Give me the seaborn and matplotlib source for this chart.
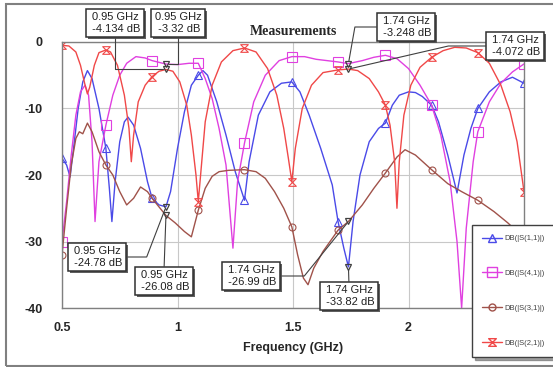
import numpy as np
import matplotlib
matplotlib.use("Agg")
import matplotlib.pyplot as plt
import matplotlib.patheffects as pe
from matplotlib.lines import Line2D
from matplotlib.patches import Rectangle
from matplotlib.path import Path
import seaborn as sns

# traced curves (frequency in GHz, magnitude in dB)
s11_freq = [0.5, 0.52, 0.535, 0.55, 0.57, 0.59, 0.61, 0.63, 0.66, 0.69, 0.705, 0.716, 0.73, 0.75, 0.77,
            0.786, 0.81, 0.84, 0.87, 0.89, 0.92, 0.95, 0.97, 1.0, 1.03, 1.06, 1.09, 1.11, 1.13, 1.17, 1.21,
            1.25, 1.29, 1.31, 1.35, 1.4, 1.45, 1.495, 1.53, 1.57, 1.62, 1.67, 1.695, 1.72, 1.74, 1.76, 1.79,
            1.83, 1.87, 1.9, 1.93, 1.96, 2.0, 2.03, 2.06, 2.1, 2.13, 2.17, 2.21, 2.24, 2.27, 2.3, 2.35, 2.4,
            2.45, 2.5]
s11_db = [-17.5, -18.5, -20.3, -16, -10, -6, -4.3, -5.5, -10, -16, -22, -27, -21, -15, -12,
          -11.3, -12.5, -16, -21, -23.5, -24.5, -24.78, -22.5, -16, -10.5, -6.5, -5, -4.3, -5, -9, -14,
          -19.5, -23.8, -18, -11, -7.5, -6.2, -6, -7.5, -11, -16, -21.5, -27, -31, -33.82, -27, -20,
          -15, -13, -12.2, -9.5, -8, -7.5, -7.6, -8.2, -9.5, -12, -17, -22.7, -17, -13, -10, -7.5, -6,
          -5.3, -6.2]

s41_freq = [0.5, 0.52, 0.54, 0.56, 0.58, 0.60, 0.615, 0.63, 0.643, 0.66, 0.69, 0.72, 0.75, 0.78, 0.82,
            0.86, 0.89, 0.95, 1.0, 1.05, 1.09, 1.12, 1.15, 1.18, 1.21, 1.24, 1.26, 1.29, 1.33, 1.38, 1.44,
            1.495, 1.55, 1.6, 1.695, 1.74, 1.8, 1.85, 1.9, 1.95, 2.0, 2.05, 2.1, 2.14, 2.18, 2.21, 2.23,
            2.25, 2.28, 2.3, 2.35, 2.4, 2.45, 2.5]
s41_db = [-30, -24, -17, -11, -7.5, -6.5, -8, -15, -27, -18, -12.5, -8, -5, -3.2, -2.2,
          -2.4, -2.8, -3.32, -3.4, -3.2, -3.2, -5.5, -8.5, -13, -18.5, -31, -21, -15.2, -9, -5, -2.8,
          -2.2, -2.2, -2.6, -3.0, -3.25, -2.8, -2.3, -2.0, -2.5, -4, -6.5, -9.5, -14, -21, -30, -40,
          -28, -18, -13.5, -9, -6.2, -4.5, -3.3]

s31_freq = [0.5, 0.52, 0.54, 0.56, 0.575, 0.59, 0.61, 0.63, 0.66, 0.69, 0.72, 0.75, 0.78, 0.81, 0.84,
            0.87, 0.89, 0.92, 0.95, 0.99, 1.03, 1.06, 1.09, 1.12, 1.15, 1.18, 1.22, 1.29, 1.34, 1.38, 1.42,
            1.46, 1.495, 1.52, 1.545, 1.565, 1.59, 1.63, 1.695, 1.74, 1.8, 1.85, 1.9, 1.95, 1.985, 2.03,
            2.1, 2.17, 2.23, 2.3, 2.37, 2.43, 2.5]
s31_db = [-32, -25, -18.5, -14.5, -13.5, -13.8, -12.2, -13.5, -16.5, -18.5, -20, -22.5, -24.5, -23.5, -21.8,
          -22.5, -23.5, -24.8, -26.08, -27.2, -28.5, -29.3, -25.3, -22, -20.2, -19.5, -19.3, -19.2, -19.5, -20.5, -22.5,
          -25, -27.8, -32, -35.5, -36.5, -34, -31.5, -28.3, -26.99, -24.5, -22, -19.7, -17.3, -16.2, -17,
          -19.2, -21.3, -22.5, -23.8, -25.5, -27.2, -29.5]

s21_freq = [0.5, 0.53, 0.56, 0.58, 0.60, 0.61, 0.62, 0.64, 0.66, 0.69, 0.71, 0.74, 0.77, 0.79, 0.80,
            0.81, 0.83, 0.86, 0.89, 0.92, 0.95, 0.98, 1.01, 1.04, 1.06, 1.08, 1.09, 1.10, 1.12, 1.15, 1.19,
            1.24, 1.29, 1.34, 1.39, 1.43, 1.46, 1.48, 1.495, 1.51, 1.54, 1.58, 1.63, 1.695, 1.74, 1.78,
            1.83, 1.87, 1.9, 1.92, 1.94, 1.95, 1.96, 1.98, 2.01, 2.05, 2.1, 2.15, 2.2, 2.25, 2.3, 2.35,
            2.4, 2.44, 2.47, 2.5]
s21_db = [-0.5, -0.6, -1.5, -3.5, -6.5, -7.8, -6.8, -3.5, -1.6, -1.2, -1.5, -3.5, -8, -13, -18,
          -14, -9, -6.5, -5.2, -4.4, -4.13, -4.4, -6, -9.5, -14, -20, -24, -20, -12, -6.5, -3,
          -1.3, -0.9, -1.5, -4, -8, -13, -17.5, -21, -16, -10, -6.5, -4.6, -4.2, -4.07, -4.3,
          -5.5, -7.5, -9.5, -12.5, -18, -25, -18, -11, -6.5, -3.8, -2.3, -1.3, -0.8, -0.9, -1.6, -3.2,
          -6.5, -10.5, -15, -22.5]

marker_freqs = [0.5, 0.69, 0.89, 1.09, 1.29, 1.495, 1.695, 1.9, 2.1, 2.3, 2.5]

labels = ["DB(|S(1,1)|)", "DB(|S(4,1)|)", "DB(|S(3,1)|)", "DB(|S(2,1)|)"]
colors = ["#4a4ae8", "#e040e0", "#a0524a", "#f04848"]

# marker read-outs: (freq, dB, text)
readouts = [
    (0.95, -4.134, "0.95 GHz\n -4.134 dB"),
    (0.95, -3.32, "0.95 GHz\n -3.32 dB"),
    (1.74, -3.248, "1.74 GHz\n -3.248 dB"),
    (1.74, -4.072, "1.74 GHz\n -4.072 dB"),
    (0.95, -24.78, "0.95 GHz\n -24.78 dB"),
    (0.95, -26.08, "0.95 GHz\n -26.08 dB"),
    (1.74, -26.99, "1.74 GHz\n -26.99 dB"),
    (1.74, -33.82, "1.74 GHz\n -33.82 dB"),
]

sns.set_style("white")
plt.rcParams["font.family"] = ["Liberation Sans", "DejaVu Sans"]

W, H = 553, 367
fig = plt.figure(figsize=(W / 100, H / 100), dpi=100)
ax = fig.add_axes([62 / W, 59 / H, 462 / W, 266 / H])

hourglass = Path([(-1, 1), (1, 1), (-1, -1), (1, -1), (-1, 1)],
                 [Path.MOVETO, Path.LINETO, Path.LINETO, Path.LINETO, Path.CLOSEPOLY])
markers = ["^", "s", "o", hourglass]
sizes = [6, 6.5, 5, 5.5]

series = [(s11_freq, s11_db), (s41_freq, s41_db), (s31_freq, s31_db), (s21_freq, s21_db)]
handles = []
for (f, d), lab, c, m, ms in zip(series, labels, colors, markers, sizes):
    mask = [bool(np.any(np.isclose(v, marker_freqs))) for v in f]
    sns.lineplot(x=f, y=d, ax=ax, color=c, linewidth=1, estimator=None, sort=False,
                 marker=m, markevery=mask, markersize=ms, markerfacecolor="none",
                 markeredgecolor=c, markeredgewidth=0.8, legend=False)
    handles.append(Line2D([], [], color=c, lw=1, marker=m, markersize=ms,
                          markerfacecolor="none", markeredgecolor=c, label=lab))

# readout marker symbols
for f, d, _ in readouts:
    ax.plot(f, d, marker="v", ms=5, mfc="none", mec="#404040", mew=0.9, zorder=5)

ax.set_xlim(0.5, 2.5)
ax.set_ylim(-40, 0)
ax.set_xticks([0.5, 1, 1.5, 2])
ax.set_xticklabels(["0.5", "1", "1.5", "2"])
ax.set_yticks([0, -10, -20, -30, -40])
ax.set_yticklabels(["0", "-10", "-20", "-30", "-40"])
ax.grid(True, color="#c8c8c8", lw=0.8)
ax.tick_params(axis="both", length=0, labelsize=9)
ax.tick_params(axis="y", pad=14)
ax.tick_params(axis="x", pad=10)
for t in ax.get_xticklabels() + ax.get_yticklabels():
    t.set_fontweight("bold")
for s in ax.spines.values():
    s.set_color("#808080")
    s.set_linewidth(1)
ax.set_xlabel("Frequency (GHz)", fontsize=9, fontweight="bold", labelpad=6)
ax.set_ylabel("")
ax.set_title("Measurements", fontfamily=["Liberation Serif", "DejaVu Serif"], fontweight="bold",
             fontsize=10, pad=5)

# read-out boxes: centre in image pixels, where the leader leaves the box, connection
boxes = [
    ((115, 23), (0.5, 0), "angle,angleA=90,angleB=0,rad=0"),
    ((178, 23), (0.5, 0), "angle,angleA=90,angleB=0,rad=0"),
    ((406, 27), (0, 0.5), "angle,angleA=0,angleB=80,rad=0"),
    ((515, 46), (0, 0.5), "angle,angleA=0,angleB=13,rad=0"),
    ((97, 257), (1, 0.5), "angle,angleA=0,angleB=69,rad=0"),
    ((164, 281), (0.5, 1), "arc3"),
    ((251, 276), (1, 0.5), "angle,angleA=0,angleB=51,rad=0"),
    ((349, 296), (0.5, 1), "arc3"),
]
for (f, d, txt), ((bx, by), rp, cs) in zip(readouts, boxes):
    a = ax.annotate(txt, xy=(f, d), xycoords="data", xytext=(bx, H - by), textcoords="figure pixels",
                    ha="center", va="center", fontsize=8, color="#202020", annotation_clip=False,
                    bbox=dict(boxstyle="square,pad=0.3", fc="white", ec="#303030", lw=1.1),
                    arrowprops=dict(arrowstyle="-", color="#404040", lw=0.8, relpos=rp,
                                    connectionstyle=cs, shrinkA=0, shrinkB=2),
                    zorder=6)
    a.get_bbox_patch().set_path_effects([pe.withSimplePatchShadow(offset=(1.5, -1.5),
                                                                   shadow_rgbFace="0.3", alpha=0.9)])

leg = fig.legend(handles=handles, loc="upper left", bbox_to_anchor=(472 / W, 1 - 225 / H),
                 borderaxespad=0, fontsize=5.5, labelspacing=3.6, handlelength=2.6,
                 handletextpad=0.4, borderpad=1.3, fancybox=False, shadow=True,
                 edgecolor="#404040", framealpha=1)
for t in leg.get_texts():
    t.set_color("#404040")
leg.get_frame().set_linewidth(1)

# outer frame
fig.patches.append(Rectangle((6 / W, 1 / H), 1.0, 362 / H, transform=fig.transFigure,
                             fill=False, ec="#808080", lw=1.5))

fig.savefig("out.png", dpi=100)
